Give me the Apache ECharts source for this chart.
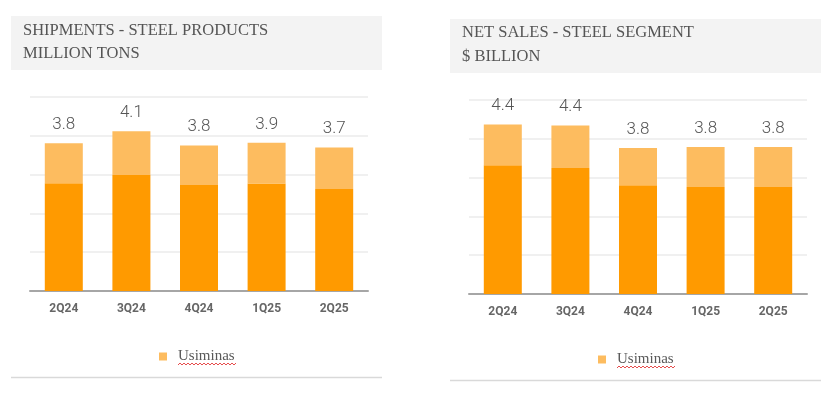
<!DOCTYPE html>
<html lang="en">
<head>
    <meta charset="UTF-8">
    <title>Usiminas - shipments and net sales</title>
    <script src="https://cdn.jsdelivr.net/npm/echarts@6/dist/echarts.min.js"></script>
    <style>
        html, body { margin: 0; padding: 0; background: #fff; }
    </style>
</head>
<body>
    <div id="main" style="width: 840px;height: 397px"></div>
    <script>
        // quarters on both charts
        var quarters = ['2Q24', '3Q24', '4Q24', '1Q25', '2Q25'];

        // shipments (million tons): dark lower part, light upper part, printed total
        var shipBase = [2.78, 2.99, 2.73, 2.77, 2.63];
        var shipTop = [1.03, 1.13, 1.02, 1.05, 1.07];
        var shipTotal = ['3.8', '4.1', '3.8', '3.9', '3.7'];

        // net sales ($ billion)
        var salesBase = [3.32, 3.25, 2.80, 2.76, 2.76];
        var salesTop = [1.05, 1.09, 0.96, 1.03, 1.03];
        var salesTotal = ['4.4', '4.4', '3.8', '3.8', '3.8'];

        var darkOrange = '#FF9A00';
        var lightOrange = '#FDBC5F';
        var grey = '#595959';
        var sans = 'Roboto, "Noto Sans", sans-serif';
        var serif = '"Liberation Serif", "DejaVu Serif", serif';

        var mCharts = echarts.init(document.getElementById('main'));

        function xAxisFor(idx) {
            return {
                type: 'category',
                gridIndex: idx,
                data: quarters,
                axisTick: { show: false },
                axisLine: { lineStyle: { color: '#a6a6a6', width: 2 } },
                axisLabel: {
                    color: '#666', fontFamily: sans, fontWeight: 'bold',
                    fontSize: 12, margin: 12
                }
            };
        }
        function yAxisFor(idx) {
            return {
                type: 'value', gridIndex: idx, min: 0, max: 5, interval: 1,
                axisLabel: { show: false },
                axisLine: { show: false },
                axisTick: { show: false },
                splitLine: { lineStyle: { color: '#ebebeb', width: 1.5 } }
            };
        }
        function barPair(idx, base, top, totals) {
            return [{
                name: 'base' + idx, type: 'bar', stack: 's' + idx,
                xAxisIndex: idx, yAxisIndex: idx, barWidth: 38,
                itemStyle: { color: darkOrange },
                data: base
            }, {
                name: 'Usiminas', type: 'bar', stack: 's' + idx,
                xAxisIndex: idx, yAxisIndex: idx, barWidth: 38,
                itemStyle: { color: lightOrange },
                label: {
                    show: true, position: 'top', distance: 10,
                    color: '#555', fontFamily: sans, fontWeight: 300, fontSize: 17,
                    formatter: function (p) { return totals[p.dataIndex]; }
                },
                data: top
            }];
        }
        // wavy spell-check underline under the legend text
        function wave(x0, x1, y) {
            var pts = [];
            for (var x = x0, k = 0; x <= x1; x += 2, k++) {
                pts.push([x, y + (k % 2 ? -1 : 1)]);
            }
            return {
                type: 'polyline', silent: true,
                shape: { points: pts },
                style: { stroke: '#e02020', lineWidth: 0.8, fill: null }
            };
        }
        function legendFor(left, top) {
            return {
                data: ['Usiminas'], left: left, top: top, padding: 0,
                icon: 'rect', itemWidth: 8, itemHeight: 8,
                selectedMode: false,
                textStyle: { color: grey, fontFamily: serif, fontSize: 15, padding: [0, 0, 0, 6] }
            };
        }

        var option = {
            animation: false,
            backgroundColor: '#fff',
            grid: [
                { left: 30, right: 472, top: 97, bottom: 106 },
                { left: 469, right: 33, top: 100, bottom: 103 }
            ],
            xAxis: [xAxisFor(0), xAxisFor(1)],
            yAxis: [yAxisFor(0), yAxisFor(1)],
            legend: [legendFor(159, 349), legendFor(598, 352)],
            series: barPair(0, shipBase, shipTop, shipTotal)
                .concat(barPair(1, salesBase, salesTop, salesTotal)),
            graphic: [
                { type: 'rect', z: -1, shape: { x: 11, y: 16, width: 371, height: 54 }, style: { fill: '#f3f3f3' } },
                { type: 'rect', z: -1, shape: { x: 450, y: 19, width: 371, height: 54 }, style: { fill: '#f3f3f3' } },
                { type: 'text', x: 23, y: 31, style: { text: 'SHIPMENTS - STEEL PRODUCTS', fill: '#555', font: '16.5px ' + serif, verticalAlign: 'middle' } },
                { type: 'text', x: 23, y: 54, style: { text: 'MILLION TONS', fill: '#555', font: '16.5px ' + serif, verticalAlign: 'middle' } },
                { type: 'text', x: 462, y: 33, style: { text: 'NET SALES - STEEL SEGMENT', fill: '#555', font: '16.5px ' + serif, verticalAlign: 'middle' } },
                { type: 'text', x: 462, y: 56.5, style: { text: '$ BILLION', fill: '#555', font: '16.5px ' + serif, verticalAlign: 'middle' } },
                { type: 'line', shape: { x1: 11, y1: 377.5, x2: 382, y2: 377.5 }, style: { stroke: '#d9d9d9', lineWidth: 1.5 } },
                { type: 'line', shape: { x1: 450, y1: 380.5, x2: 821, y2: 380.5 }, style: { stroke: '#d9d9d9', lineWidth: 1.5 } },
                wave(178, 236, 364),
                wave(617, 675, 367)
            ]
        };
        mCharts.setOption(option);
    </script>
</body>
</html>
